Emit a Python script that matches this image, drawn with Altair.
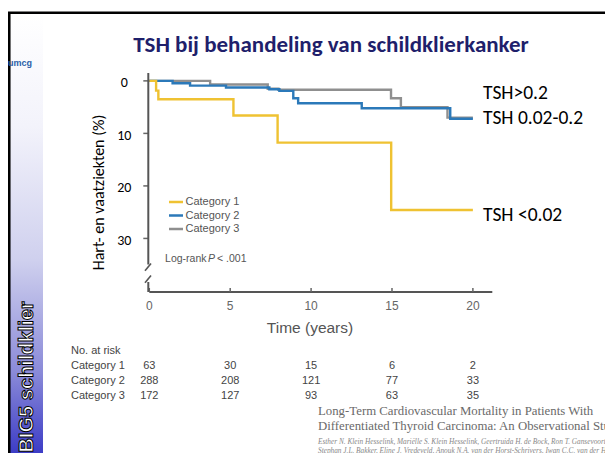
import altair as alt
import pandas as pd

# ---------------- data ----------------
categories = ["Category 1", "Category 2", "Category 3"]
cat1_time = [0, 0.42, 0.56, 5.2, 7.93, 14.95, 20.0]
cat1_pct = [0, 1.85, 3.5, 6.6, 11.75, 24.6, 24.6]
cat2_time = [0, 1.44, 2.52, 4.74, 7.42, 8.04, 8.9, 9.2, 13.13, 18.6, 20.0]
cat2_pct = [0, 0.44, 0.9, 1.27, 1.59, 1.9, 3.3, 4.25, 5.2, 7.2, 7.2]
cat3_time = [0, 3.76, 7.32, 7.98, 14.94, 15.55, 18.43, 20.0]
cat3_pct = [0, 0.7, 1.5, 1.7, 3.3, 5.0, 7.0, 7.0]

tsh_labels = ["TSH>0.2", "TSH 0.02-0.2", "TSH <0.02"]

risk_years = [0, 5, 10, 15, 20]
risk_cat1 = [63, 30, 15, 6, 2]
risk_cat2 = [288, 208, 121, 77, 33]
risk_cat3 = [172, 127, 93, 63, 35]

x_ticks = [0, 5, 10, 15, 20]
y_ticks = [0, 10, 20, 30]

title_text = "TSH bij behandeling van schildklierkanker"
y_title = "Hart- en vaatziekten (%)"
x_title = "Time (years)"
risk_title = "No. at risk"
logrank_parts = ["Log-rank", "P", "< .001"]
cite_title = ["Long-Term Cardiovascular Mortality in Patients With",
              "Differentiated Thyroid Carcinoma: An Observational Study"]
cite_authors = [
    "Esther N. Klein Hesselink, Mariëlle S. Klein Hesselink, Geertruida H. de Bock, Ron T. Gansevoort,",
    "Stephan J.L. Bakker, Eline J. Vredeveld, Anouk N.A. van der Horst-Schrivers, Iwan C.C. van der Horst,",
    "Joop D. Lefrandt, Thera P. Links, and Wim J. Sluiter",
]
sidebar_text = "BIG5 schildklier"
logo_text = "umcg"

# ---------------- styles / layout ----------------
COLORS = ["#efc232", "#2b79b9", "#8f8f8f"]
SANS = "Liberation Sans, Arial, sans-serif"
SLIDE = "Carlito, Calibri, Lato, sans-serif"
SERIF = "Liberation Serif, Times New Roman, serif"

SVG_W, SVG_H = 597, 445
PLOT_L, PLOT_T = 149.3, 73.0      # page position of the data area
PLOT_W, PLOT_H = 343, 219


def px(x):           # page -> svg coordinates
    return x - 8


def py(y):
    return y - 8


one = pd.DataFrame({"k": [0]})


def text_at(s, x, y, **kw):
    return alt.Chart(one).mark_text(**kw).encode(
        x=alt.value(px(x)), y=alt.value(py(y)), text=alt.value(s))


def rule_at(x1, y1, x2, y2, **kw):
    return alt.Chart(one).mark_rule(**kw).encode(
        x=alt.value(px(x1)), y=alt.value(py(y1)),
        x2=alt.value(px(x2)), y2=alt.value(py(y2)))


xscale = alt.Scale(domain=[0, 21.2], nice=False, zero=False,
                   range=[px(PLOT_L), px(PLOT_L + PLOT_W)])
yscale = alt.Scale(domain=[-1.5, 40.2], nice=False, zero=False,
                   range=[py(PLOT_T), py(PLOT_T + PLOT_H)])

layers = []

# ---- slide decorations ----
grad = alt.Gradient(gradient="linear", x1=0, x2=0, y1=0, y2=1, stops=[
    alt.GradientStop(color="#ffffff", offset=0),
    alt.GradientStop(color="#f3f3fb", offset=0.25),
    alt.GradientStop(color="#cfd0ee", offset=0.55),
    alt.GradientStop(color="#8a8ad8", offset=0.8),
    alt.GradientStop(color="#3434c4", offset=1),
])
layers.append(alt.Chart(one).mark_rect(fill=grad).encode(
    x=alt.value(px(10)), x2=alt.value(px(43)),
    y=alt.value(py(14)), y2=alt.value(py(462))))
layers.append(rule_at(6, 12.8, 613, 12.8, color="#000000", strokeWidth=2.5))
layers.append(rule_at(9.25, 12, 9.25, 462, color="#000000", strokeWidth=2.6))
layers.append(text_at(logo_text, 20, 63, font=SANS, fontSize=9,
                      fontWeight="bold", color="#2b5fa8", align="center",
                      baseline="middle"))
layers.append(text_at(sidebar_text, 27, 377, font=SANS,
                      fontSize=20, fontWeight="bold", angle=270, fill="#ffffff",
                      stroke="#000000", strokeWidth=1, align="center",
                      baseline="middle"))
layers.append(text_at(title_text, 331, 45, font=SLIDE, fontSize=23,
                      fontWeight="bold", color="#1f1f6b", align="center",
                      baseline="middle"))

# ---- curves (grey, blue, yellow drawing order) ----
times = [cat1_time, cat2_time, cat3_time]
pcts = [cat1_pct, cat2_pct, cat3_pct]
for i in [2, 1, 0]:
    df = pd.DataFrame({"t": times[i], "p": pcts[i]})
    layers.append(alt.Chart(df).mark_line(
        interpolate="step-after", strokeWidth=2.4, color=COLORS[i]).encode(
        x=alt.X("t:Q", scale=xscale, axis=None),
        y=alt.Y("p:Q", scale=yscale, axis=None)))

# ---- axes drawn from the scales ----
xt = pd.DataFrame({"t": x_ticks})
yt = pd.DataFrame({"v": y_ticks})
XB = PLOT_T + PLOT_H
layers.append(rule_at(PLOT_L, XB, PLOT_L + PLOT_W, XB, color="#555555", strokeWidth=2))
layers.append(alt.Chart(xt).mark_rule(color="#666666", strokeWidth=1.5).encode(
    x=alt.X("t:Q", scale=xscale, axis=None),
    y=alt.value(py(XB) - 4), y2=alt.value(py(XB))))
layers.append(alt.Chart(xt).mark_text(font=SANS, fontSize=12, color="#666666",
                                      baseline="middle").encode(
    x=alt.X("t:Q", scale=xscale, axis=None), y=alt.value(py(XB) + 14),
    text=alt.Text("t:Q")))
layers.append(alt.Chart(yt).mark_rule(color="#666666", strokeWidth=1.5).encode(
    y=alt.Y("v:Q", scale=yscale, axis=None),
    x=alt.value(px(PLOT_L) - 6), x2=alt.value(px(PLOT_L) - 1)))
layers.append(alt.Chart(yt).mark_text(font=SLIDE, fontSize=14, color="#000000",
                                      align="center", baseline="middle",
                                      dy=2.5).encode(
    y=alt.Y("v:Q", scale=yscale, axis=None), x=alt.value(px(PLOT_L) - 25),
    text=alt.Text("v:Q")))
layers.append(text_at(y_title, 99, 192.5, font=SLIDE, fontSize=16, angle=270,
                      color="#000000", align="center", baseline="middle"))
layers.append(text_at(x_title, 310, 328, font=SANS, fontSize=15.5,
                      color="#555555", align="center", baseline="middle"))

# y-axis line with break
AX = 148.3
layers.append(rule_at(AX, 73, AX, 264.5, color="#555555", strokeWidth=2))
layers.append(rule_at(AX, 282, AX, XB, color="#555555", strokeWidth=2))
layers.append(rule_at(145, 270.7, 151, 263.5, color="#555555", strokeWidth=1.6))
layers.append(rule_at(145, 282.7, 151, 275.5, color="#555555", strokeWidth=1.6))

# ---- legend inside the plot ----
for i, cat in enumerate(categories):
    yy = 202 + 13.5 * i
    layers.append(rule_at(169, yy, 183, yy, color=COLORS[i], strokeWidth=2.5))
    layers.append(text_at(cat, 185.5, yy, font=SANS, fontSize=11,
                          color="#555555", align="left", baseline="middle"))
layers.append(text_at(logrank_parts[0], 206.5, 259, font=SANS, fontSize=10.5,
                      color="#555555", align="right", baseline="middle"))
layers.append(text_at(logrank_parts[1], 208, 259, font=SANS, fontSize=10.5,
                      fontStyle="italic", color="#555555", align="left",
                      baseline="middle"))
layers.append(text_at(logrank_parts[2], 217, 259, font=SANS, fontSize=10.5,
                      color="#555555", align="left", baseline="middle"))

# ---- right-hand TSH labels ----
for lab, yy in zip(tsh_labels, [93, 118, 215]):
    layers.append(text_at(lab, 483, yy, font=SLIDE, fontSize=19.5,
                          color="#000000", align="left", baseline="middle"))

# ---- number at risk table ----
layers.append(text_at(risk_title, 71, 351, font=SANS, fontSize=11,
                      color="#444444", align="left", baseline="middle"))
risk_rows = [risk_cat1, risk_cat2, risk_cat3]
for i, cat in enumerate(categories):
    yy = 366 + 15 * i
    layers.append(text_at(cat, 71, yy, font=SANS, fontSize=11,
                          color="#444444", align="left", baseline="middle"))
    rdf = pd.DataFrame({"t": risk_years, "n": risk_rows[i]})
    layers.append(alt.Chart(rdf).mark_text(
        font=SANS, fontSize=11, color="#444444", align="center",
        baseline="middle").encode(
        x=alt.X("t:Q", scale=xscale, axis=None),
        y=alt.value(py(yy)), text=alt.Text("n:Q")))

# ---- citation ----
for j, line in enumerate(cite_title):
    layers.append(text_at(line, 318, 411 + 14.5 * j, font=SERIF, fontSize=12.8,
                          color="#6a6a6a", align="left", baseline="middle"))
for j, line in enumerate(cite_authors):
    layers.append(text_at(line, 318, 442 + 9 * j, font=SERIF, fontSize=7.3,
                          fontStyle="italic", color="#888888", align="left",
                          baseline="middle"))

chart = alt.layer(*layers).properties(
    width=SVG_W, height=SVG_H,
    padding=0,
    autosize=alt.AutoSizeParams(type="none"),
    background="#ffffff",
).configure_view(stroke=None)

chart.save("out.html", embed_options={"renderer": "svg", "actions": False})
